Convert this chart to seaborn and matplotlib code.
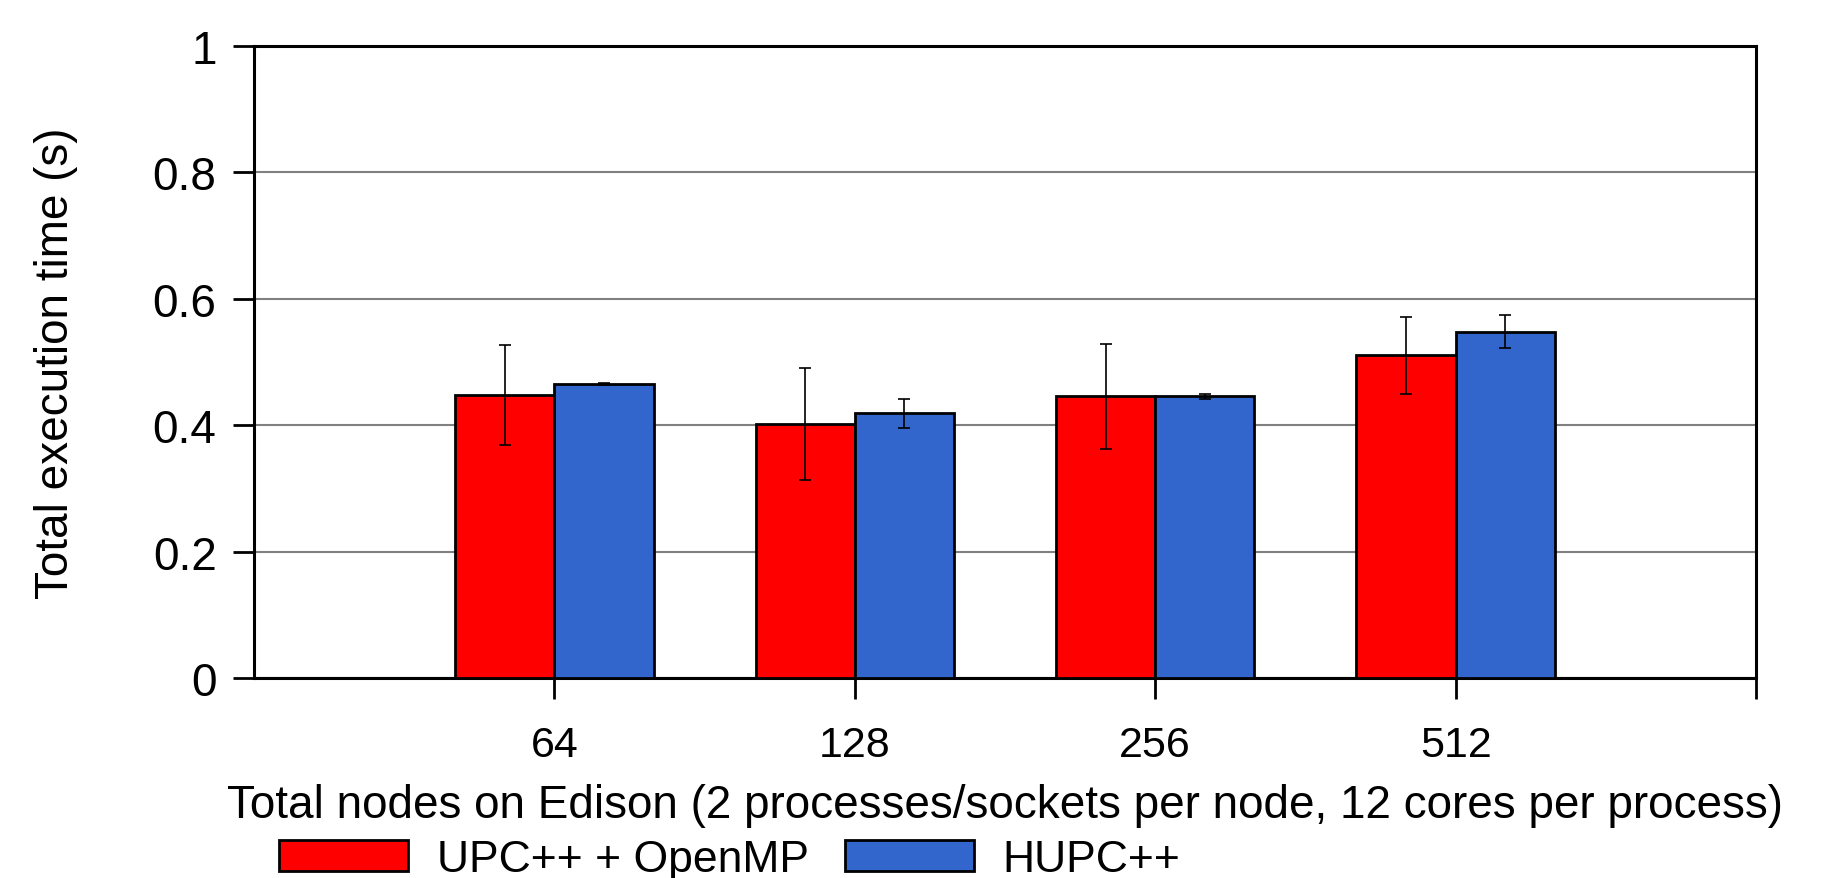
import pandas as pd
import matplotlib.pyplot as plt
import seaborn as sns

nodes = ['64', '128', '256', '512']
series = ['UPC++ + OpenMP', 'HUPC++']
upcxx_omp = [0.448, 0.402, 0.446, 0.511]
upcxx_omp_err = [0.079, 0.088, 0.083, 0.061]
hupcxx = [0.465, 0.419, 0.446, 0.548]
hupcxx_err = [0.002, 0.023, 0.004, 0.026]
colors = ['#ff0000', '#3366cc']


def build_frame():
    df = pd.DataFrame({
        'nodes': nodes * 2,
        'series': [series[0]] * 4 + [series[1]] * 4,
        'time': upcxx_omp + hupcxx,
        'err': upcxx_omp_err + hupcxx_err,
    })
    return df


def plot(df):
    sns.set_style('white')
    plt.rcParams['font.family'] = ['Liberation Sans', 'DejaVu Sans']
    plt.rcParams['text.color'] = 'black'
    plt.rcParams['axes.labelcolor'] = 'black'
    plt.rcParams['xtick.color'] = 'black'
    plt.rcParams['ytick.color'] = 'black'
    fig = plt.figure(figsize=(18.29, 8.79), dpi=100)
    ax = fig.add_axes([0.1389, 0.2275, 0.8212, 0.719])

    sns.barplot(data=df, x='nodes', y='time', hue='series', order=nodes,
                hue_order=series, palette=colors, width=0.66,
                edgecolor='black', linewidth=2, saturation=1,
                errorbar=None, legend=True, ax=ax, zorder=3)

    # error bars at bar centres
    errs = [upcxx_omp_err, hupcxx_err]
    for cont, err in zip(ax.containers, errs):
        xs = [b.get_x() + b.get_width() / 2 for b in cont]
        hs = [b.get_height() for b in cont]
        ax.errorbar(xs, hs, yerr=err, fmt='none', ecolor='black',
                    elinewidth=1.2, capsize=4, capthick=1.2, zorder=4)

    ax.set_xlim(-1, 4)
    ax.set_ylim(0, 1)
    ax.set_xticks([0, 1, 2, 3, 4])
    ax.set_xticklabels(nodes + [''])
    ax.set_yticks([0, 0.2, 0.4, 0.6, 0.8, 1])
    ax.set_yticklabels(['0', '0.2', '0.4', '0.6', '0.8', '1'])
    ax.yaxis.grid(True, color='#808080', linewidth=1.5, zorder=0)
    ax.xaxis.grid(False)
    ax.set_axisbelow(True)
    for sp in ax.spines.values():
        sp.set_color('black')
        sp.set_linewidth(2.2)
    ax.tick_params(axis='x', bottom=True, direction='out', length=15, width=2,
                   color='black', pad=19, labelsize=31, labelcolor='black')
    ax.tick_params(axis='y', left=True, direction='out', length=15, width=2,
                   color='black', pad=12, labelsize=33, labelcolor='black')
    ax.set_xlabel('Total nodes on Edison (2 processes/sockets per node, 12 cores per process)',
                  fontsize=33, labelpad=13, color='black')
    ax.set_ylabel('Total execution time (s)', fontsize=33, labelpad=54,
                  color='black')

    handles, labels = ax.get_legend_handles_labels()
    ax.get_legend().remove()
    fig.legend(handles, labels, loc='center', bbox_to_anchor=(0.399, 0.021),
               ncol=2, frameon=False, fontsize=32, handlelength=2.9,
               handleheight=0.7, columnspacing=0.8, handletextpad=0.66,
               borderaxespad=0)

    fig.savefig('out.png', dpi=100)


def main():
    df = build_frame()
    plot(df)


if __name__ == '__main__':
    main()
